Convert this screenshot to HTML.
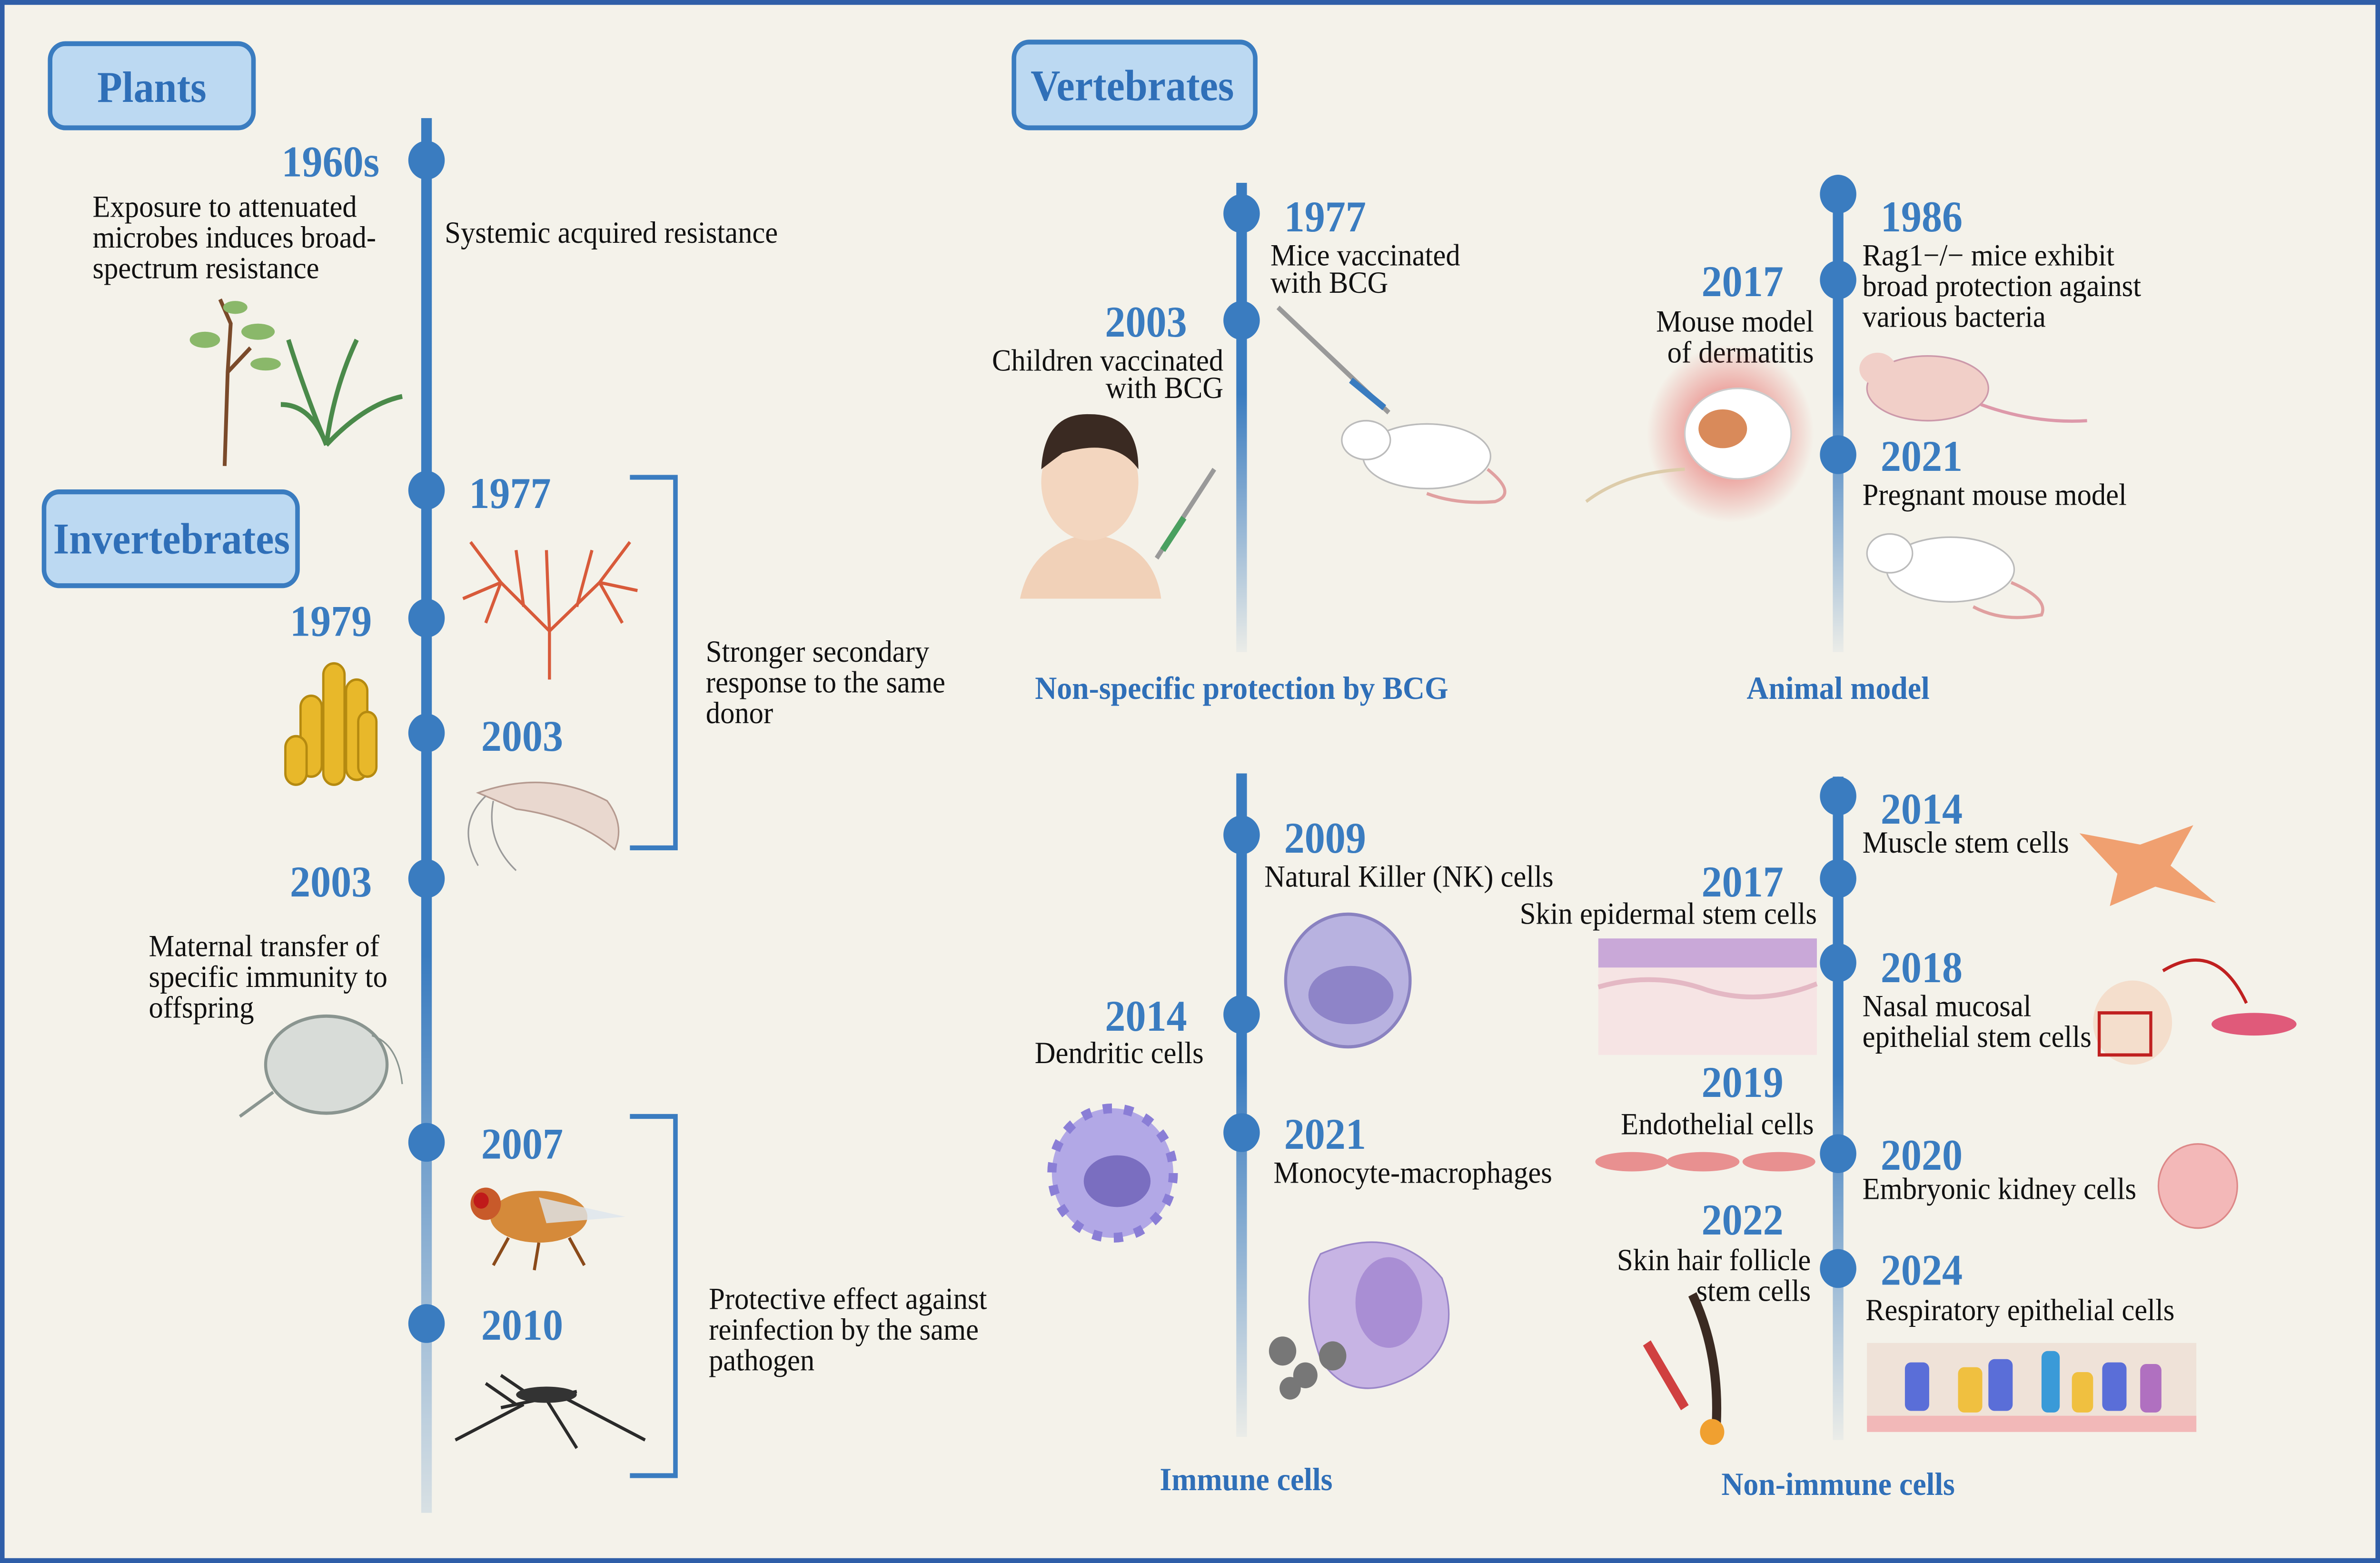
<!DOCTYPE html>
<html><head><meta charset="utf-8"><style>
html,body{margin:0;padding:0;background:#f4f2ea;overflow:hidden;width:100%;height:100%;}
svg{display:block;position:absolute;left:0;top:0;width:100vw;height:100vh}
text{font-family:"Liberation Serif",serif;}
.y{font-weight:bold;font-size:27px;fill:#3a7cc0}
.t{font-size:19px;fill:#111}
.c{font-weight:bold;font-size:20px;fill:#2f6fb8}
.h{font-weight:bold;font-size:27px;fill:#2f6fb8}
</style></head><body>
<svg viewBox="0 0 1568 966" preserveAspectRatio="none" xmlns="http://www.w3.org/2000/svg">
<defs>
<linearGradient id="g1" x1="0" y1="0" x2="0" y2="1"><stop offset="0" stop-color="#3a7cc0"/><stop offset="0.6" stop-color="#3a7cc0"/><stop offset="1" stop-color="#3a7cc0" stop-opacity="0.15"/></linearGradient>
<linearGradient id="g2" x1="0" y1="0" x2="0" y2="1"><stop offset="0" stop-color="#3a7cc0"/><stop offset="0.45" stop-color="#3a7cc0"/><stop offset="1" stop-color="#3a7cc0" stop-opacity="0.05"/></linearGradient>
<radialGradient id="rg"><stop offset="0" stop-color="#e23a3a" stop-opacity="0.8"/><stop offset="1" stop-color="#e23a3a" stop-opacity="0"/></radialGradient>
</defs>
<rect x="1.5" y="1.5" width="1565" height="963" fill="#f4f2ea" stroke="#2f5ea8" stroke-width="3"/>

<rect x="33" y="27" width="134" height="52" rx="10" fill="#bcd9f2" stroke="#3a7cc0" stroke-width="3"/>
<text x="100" y="63" class="h" text-anchor="middle">Plants</text>
<rect x="29" y="304" width="167" height="58" rx="10" fill="#bcd9f2" stroke="#3a7cc0" stroke-width="3"/>
<text x="113" y="342" class="h" text-anchor="middle">Invertebrates</text>
<rect x="668" y="26" width="159" height="53" rx="10" fill="#bcd9f2" stroke="#3a7cc0" stroke-width="3"/>
<text x="746" y="62" class="h" text-anchor="middle">Vertebrates</text>

<rect x="277.5" y="73" width="7" height="862" fill="url(#g1)"/>
<g fill="#3a7cc0">
<circle cx="281" cy="99" r="12"/><circle cx="281" cy="303" r="12"/><circle cx="281" cy="382" r="12"/><circle cx="281" cy="453" r="12"/><circle cx="281" cy="543" r="12"/><circle cx="281" cy="706" r="12"/><circle cx="281" cy="818" r="12"/>
</g>
<text x="250" y="109" class="y" text-anchor="end">1960s</text>
<text x="61" y="134" class="t">Exposure to attenuated</text>
<text x="61" y="153" class="t">microbes induces broad-</text>
<text x="61" y="172" class="t">spectrum resistance</text>
<text x="293" y="150" class="t">Systemic acquired resistance</text>
<text x="309" y="314" class="y">1977</text>
<text x="245" y="393" class="y" text-anchor="end">1979</text>
<text x="317" y="464" class="y">2003</text>
<text x="245" y="554" class="y" text-anchor="end">2003</text>
<text x="98" y="591" class="t">Maternal transfer of</text>
<text x="98" y="610" class="t">specific immunity to</text>
<text x="98" y="629" class="t">offspring</text>
<text x="317" y="716" class="y">2007</text>
<text x="317" y="828" class="y">2010</text>
<path d="M415 295 H445 V524 H415" fill="none" stroke="#3a7cc0" stroke-width="3"/>
<text x="465" y="409" class="t">Stronger secondary</text>
<text x="465" y="428" class="t">response to the same</text>
<text x="465" y="447" class="t">donor</text>
<path d="M415 690 H445 V912 H415" fill="none" stroke="#3a7cc0" stroke-width="3"/>
<text x="467" y="809" class="t">Protective effect against</text>
<text x="467" y="828" class="t">reinfection by the same</text>
<text x="467" y="847" class="t">pathogen</text>

<g stroke="#7a4a2a" stroke-width="2.5" fill="none">
<path d="M148 288 L150 230 L152 200 L145 185"/><path d="M150 230 L165 215"/>
</g>
<g stroke="#4a8a4a" stroke-width="3" fill="none">
<path d="M215 275 Q200 240 190 210"/><path d="M215 275 Q220 240 235 210"/><path d="M215 275 Q240 250 265 245"/><path d="M215 275 Q205 250 185 250"/>
</g>
<g fill="#8ab86a"><ellipse cx="135" cy="210" rx="10" ry="5"/><ellipse cx="170" cy="205" rx="11" ry="5"/><ellipse cx="155" cy="190" rx="8" ry="4"/><ellipse cx="175" cy="225" rx="10" ry="4"/></g>
<g stroke="#d85a3a" stroke-width="2" fill="none">
<path d="M362 420 L362 390 L330 360 L310 335"/><path d="M362 390 L395 360 L415 335"/><path d="M362 390 L360 340"/><path d="M330 360 L320 385"/><path d="M395 360 L410 385"/><path d="M345 375 L340 340"/><path d="M380 375 L390 340"/><path d="M330 360 L305 370"/><path d="M395 360 L420 365"/>
</g>
<g fill="#e8b82a" stroke="#b58a10" stroke-width="1.5">
<rect x="198" y="430" width="14" height="50" rx="7"/><rect x="213" y="410" width="14" height="75" rx="7"/><rect x="228" y="420" width="14" height="62" rx="7"/><rect x="188" y="455" width="14" height="30" rx="7"/><rect x="236" y="440" width="12" height="40" rx="6"/>
</g>
<path d="M315 490 Q360 475 400 495 Q412 510 405 525 Q380 505 340 500 Z" fill="#e9d8cf" stroke="#b59a90"/>
<path d="M320 492 Q300 510 315 535 M325 495 Q320 520 340 538" stroke="#999" fill="none"/>
<ellipse cx="215" cy="658" rx="40" ry="30" fill="#d8dcd8" stroke="#8a9590" stroke-width="2"/>
<path d="M180 675 L158 690" stroke="#8a9590" stroke-width="2"/>
<path d="M245 640 Q262 645 265 670" stroke="#8a9590" fill="none"/>
<ellipse cx="355" cy="752" rx="32" ry="16" fill="#d58a3a"/><circle cx="320" cy="744" r="10" fill="#c85a2a"/><circle cx="317" cy="742" r="5" fill="#c01a1a"/>
<path d="M355 740 L412 752 L360 756 Z" fill="#dde5ee" opacity="0.8"/>
<g stroke="#8a4a1a" stroke-width="2"><path d="M335 765 L325 782"/><path d="M355 768 L352 785"/><path d="M375 765 L385 782"/></g>
<g stroke="#2a2a2a" stroke-width="2" fill="none">
<path d="M330 870 L380 860"/><path d="M345 868 L300 890"/><path d="M355 866 L330 850"/><path d="M360 865 L380 895"/><path d="M370 863 L425 890"/><path d="M340 868 L320 855"/></g>
<ellipse cx="360" cy="862" rx="20" ry="5" fill="#333"/>

<rect x="814.5" y="113" width="7" height="290" fill="url(#g2)"/>
<circle cx="818" cy="132" r="12" fill="#3a7cc0"/><circle cx="818" cy="198" r="12" fill="#3a7cc0"/>
<text x="846" y="143" class="y">1977</text>
<text x="837" y="164" class="t">Mice vaccinated</text>
<text x="837" y="181" class="t">with BCG</text>
<text x="782" y="208" class="y" text-anchor="end">2003</text>
<text x="806" y="229" class="t" text-anchor="end">Children vaccinated</text>
<text x="806" y="246" class="t" text-anchor="end">with BCG</text>
<text x="818" y="432" class="c" text-anchor="middle">Non-specific protection by BCG</text>
<path d="M672 370 Q680 335 718 330 Q760 335 765 370 Z" fill="#f1d1b8"/>
<ellipse cx="718" cy="298" rx="32" ry="36" fill="#f3d6bf"/>
<path d="M686 290 Q688 255 718 256 Q750 256 750 290 Q735 270 700 280 Z" fill="#3a2a22"/>
<path d="M842 190 L915 255" stroke="#999" stroke-width="3"/><path d="M890 235 L912 252" stroke="#3a7cc0" stroke-width="4"/>
<path d="M800 290 L762 345" stroke="#999" stroke-width="3"/><path d="M780 320 L766 340" stroke="#4aa060" stroke-width="4"/>
<ellipse cx="940" cy="282" rx="42" ry="20" fill="#fff" stroke="#bbb"/><ellipse cx="900" cy="272" rx="16" ry="12" fill="#fff" stroke="#bbb"/>
<path d="M980 290 Q1000 305 985 310 Q960 312 940 305" stroke="#e0a0a0" stroke-width="2" fill="none"/>

<rect x="1207.5" y="113" width="7" height="290" fill="url(#g2)"/>
<circle cx="1211" cy="120" r="12" fill="#3a7cc0"/><circle cx="1211" cy="173" r="12" fill="#3a7cc0"/><circle cx="1211" cy="281" r="12" fill="#3a7cc0"/>
<text x="1239" y="143" class="y">1986</text>
<text x="1227" y="164" class="t">Rag1−/− mice exhibit</text>
<text x="1227" y="183" class="t">broad protection against</text>
<text x="1227" y="202" class="t">various bacteria</text>
<text x="1175" y="183" class="y" text-anchor="end">2017</text>
<text x="1195" y="205" class="t" text-anchor="end">Mouse model</text>
<text x="1195" y="224" class="t" text-anchor="end">of dermatitis</text>
<text x="1239" y="291" class="y">2021</text>
<text x="1227" y="312" class="t">Pregnant mouse model</text>
<text x="1211" y="432" class="c" text-anchor="middle">Animal model</text>
<circle cx="1140" cy="268" r="55" fill="url(#rg)"/>
<ellipse cx="1145" cy="268" rx="35" ry="28" fill="#fff" stroke="#ccc"/><ellipse cx="1135" cy="265" rx="16" ry="12" fill="#d98a5a"/>
<path d="M1110 290 Q1070 292 1045 310" stroke="#dca" stroke-width="2" fill="none"/>
<ellipse cx="1270" cy="240" rx="40" ry="20" fill="#f1cfc8" stroke="#c9a"/><ellipse cx="1237" cy="228" rx="12" ry="10" fill="#f1cfc8"/>
<path d="M1305 250 Q1340 262 1375 260" stroke="#d9a" stroke-width="2" fill="none"/>
<ellipse cx="1285" cy="352" rx="42" ry="20" fill="#fff" stroke="#bbb"/><ellipse cx="1245" cy="342" rx="15" ry="12" fill="#fff" stroke="#bbb"/>
<path d="M1325 360 Q1350 370 1345 380 Q1320 385 1300 375" stroke="#e0a0a0" stroke-width="2" fill="none"/>

<rect x="814.5" y="478" width="7" height="410" fill="url(#g2)"/>
<circle cx="818" cy="516" r="12" fill="#3a7cc0"/><circle cx="818" cy="627" r="12" fill="#3a7cc0"/><circle cx="818" cy="700" r="12" fill="#3a7cc0"/>
<text x="846" y="527" class="y">2009</text>
<text x="833" y="548" class="t">Natural Killer (NK) cells</text>
<text x="782" y="637" class="y" text-anchor="end">2014</text>
<text x="793" y="657" class="t" text-anchor="end">Dendritic cells</text>
<text x="846" y="710" class="y">2021</text>
<text x="839" y="731" class="t">Monocyte-macrophages</text>
<text x="821" y="921" class="c" text-anchor="middle">Immune cells</text>
<circle cx="888" cy="606" r="41" fill="#b8b2e0" stroke="#8a82c0" stroke-width="2"/>
<ellipse cx="890" cy="615" rx="28" ry="18" fill="#8e84c8"/>
<circle cx="733" cy="725" r="40" fill="#b2a8e6" stroke="#8a7ed6" stroke-width="6" stroke-dasharray="6 8"/>
<ellipse cx="736" cy="730" rx="22" ry="16" fill="#7a6ec0"/>
<path d="M870 775 Q920 755 950 790 Q965 830 930 850 Q890 870 870 840 Q855 800 870 775 Z" fill="#c7b4e4" stroke="#9a86c8"/>
<ellipse cx="915" cy="805" rx="22" ry="28" fill="#a98ed4"/>
<g fill="#777"><circle cx="845" cy="835" r="9"/><circle cx="860" cy="850" r="8"/><circle cx="878" cy="838" r="9"/><circle cx="850" cy="858" r="7"/></g>

<rect x="1207.5" y="480" width="7" height="410" fill="url(#g2)"/>
<g fill="#3a7cc0"><circle cx="1211" cy="492" r="12"/><circle cx="1211" cy="543" r="12"/><circle cx="1211" cy="595" r="12"/><circle cx="1211" cy="713" r="12"/><circle cx="1211" cy="784" r="12"/></g>
<text x="1239" y="509" class="y">2014</text>
<text x="1227" y="527" class="t">Muscle stem cells</text>
<text x="1175" y="554" class="y" text-anchor="end">2017</text>
<text x="1197" y="571" class="t" text-anchor="end">Skin epidermal stem cells</text>
<text x="1239" y="607" class="y">2018</text>
<text x="1227" y="628" class="t">Nasal mucosal</text>
<text x="1227" y="647" class="t">epithelial stem cells</text>
<text x="1175" y="678" class="y" text-anchor="end">2019</text>
<text x="1195" y="701" class="t" text-anchor="end">Endothelial cells</text>
<text x="1239" y="723" class="y">2020</text>
<text x="1227" y="741" class="t">Embryonic kidney cells</text>
<text x="1175" y="763" class="y" text-anchor="end">2022</text>
<text x="1193" y="785" class="t" text-anchor="end">Skin hair follicle</text>
<text x="1193" y="804" class="t" text-anchor="end">stem cells</text>
<text x="1239" y="794" class="y">2024</text>
<text x="1229" y="816" class="t">Respiratory epithelial cells</text>
<text x="1211" y="924" class="c" text-anchor="middle">Non-immune cells</text>
<path d="M1370 515 L1410 522 L1445 510 L1430 535 L1460 558 L1420 548 L1390 560 L1395 540 Z" fill="#f0a070"/>
<rect x="1053" y="580" width="144" height="18" fill="#c9a8d8"/>
<path d="M1053 598 H1197 V652 H1053 Z" fill="#f6e4e4"/>
<path d="M1053 610 Q1090 600 1125 612 Q1160 622 1197 608" stroke="#e4b8c4" stroke-width="3" fill="none"/>
<g fill="#e89090"><ellipse cx="1075" cy="718" rx="24" ry="6"/><ellipse cx="1122" cy="718" rx="24" ry="6"/><ellipse cx="1172" cy="718" rx="24" ry="6"/></g>
<path d="M1115 800 Q1135 840 1130 890" stroke="#3a2a22" stroke-width="6" fill="none"/>
<path d="M1085 830 L1110 870" stroke="#d04040" stroke-width="6"/>
<ellipse cx="1128" cy="885" rx="8" ry="8" fill="#f0a030"/>
<circle cx="1405" cy="632" r="26" fill="#f3d6bf" opacity="0.7"/>
<rect x="1383" y="626" width="34" height="26" fill="none" stroke="#c02020" stroke-width="2"/>
<path d="M1425 600 Q1460 580 1480 620" stroke="#c02020" stroke-width="2" fill="none"/>
<ellipse cx="1485" cy="633" rx="28" ry="7" fill="#e05a7a"/>
<circle cx="1448" cy="733" r="26" fill="#f3b8b8" stroke="#d88"/>
<rect x="1230" y="830" width="217" height="55" fill="#efe2d8"/>
<rect x="1230" y="875" width="217" height="10" fill="#f2b8b8"/>
<g fill="#5a6ed8"><rect x="1255" y="842" width="16" height="30" rx="4"/><rect x="1310" y="840" width="16" height="32" rx="4"/><rect x="1385" y="842" width="16" height="30" rx="4"/></g>
<g fill="#f0c040"><rect x="1290" y="845" width="16" height="28" rx="4"/><rect x="1365" y="848" width="14" height="25" rx="4"/></g>
<rect x="1345" y="835" width="12" height="38" rx="4" fill="#3a9ad8"/>
<rect x="1410" y="843" width="14" height="30" rx="4" fill="#b070c0"/>
</svg>
</body></html>
